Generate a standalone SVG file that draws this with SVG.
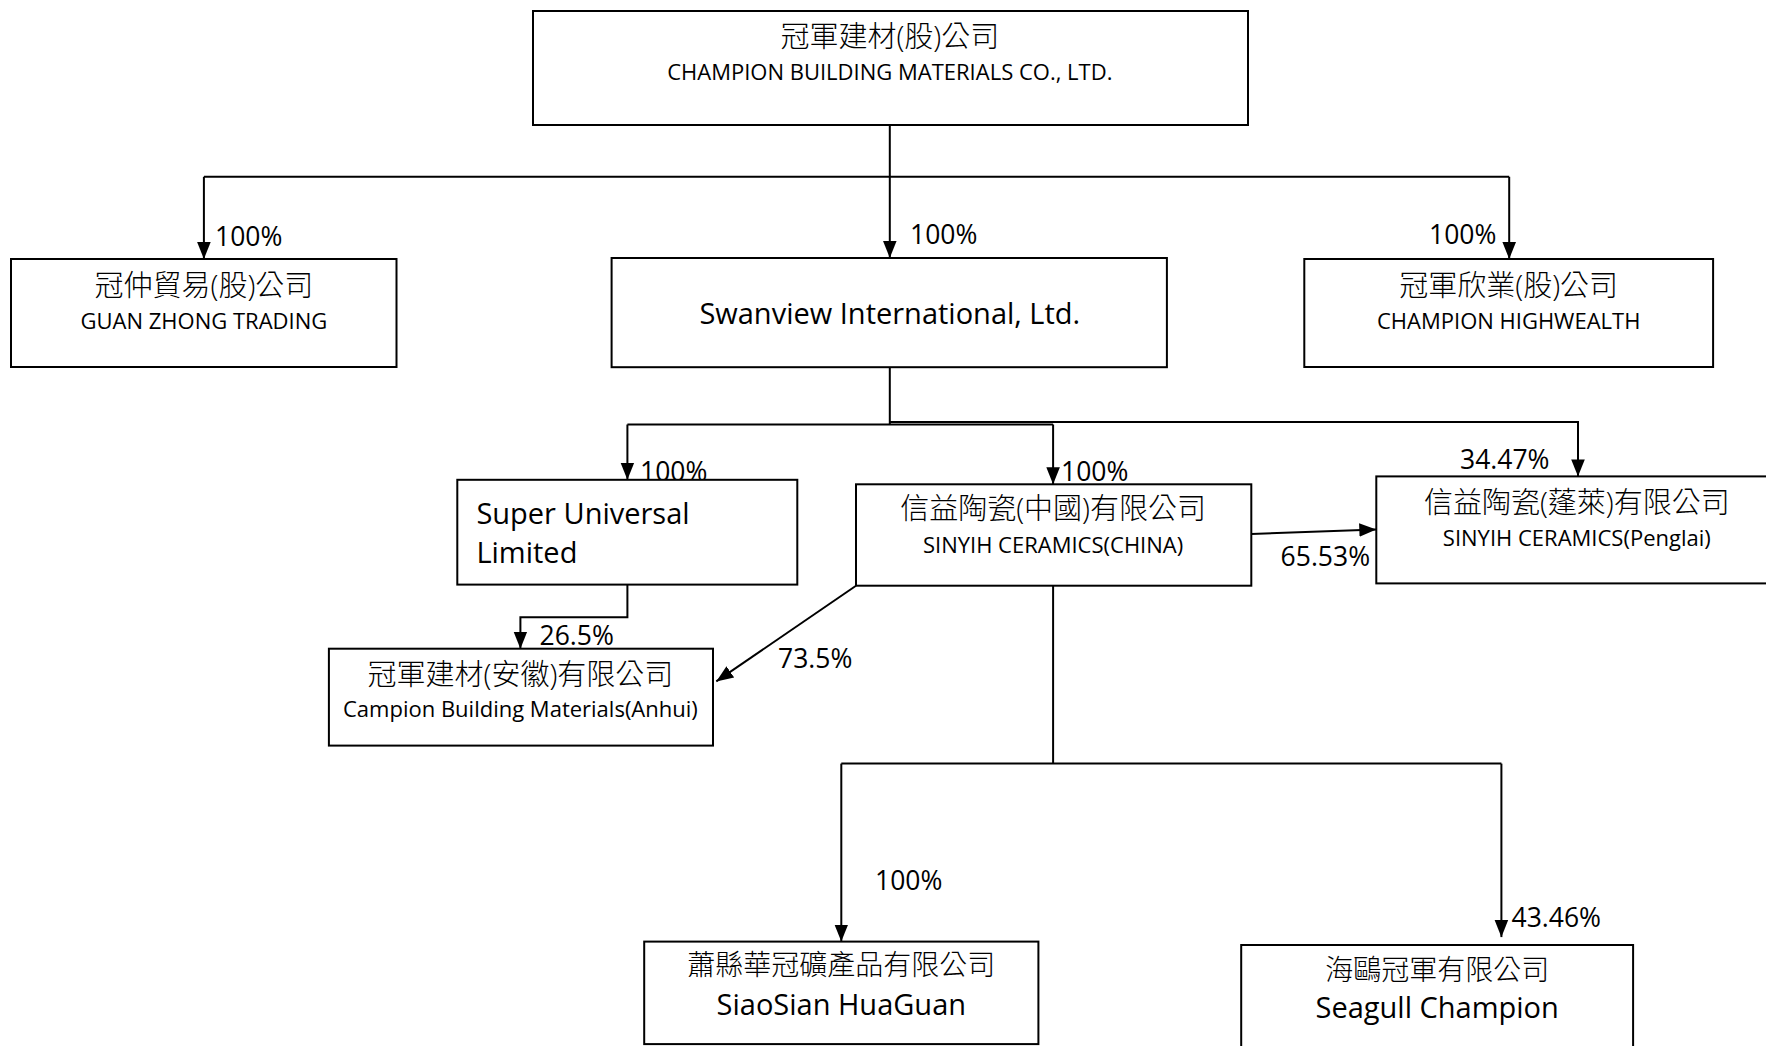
<svg xmlns="http://www.w3.org/2000/svg" width="1766" height="1046" viewBox="0 0 1766 1046">
<style>
.box{fill:#fff;stroke:#000;stroke-width:2}
.ln{fill:none;stroke:#000;stroke-width:2}
text{font-family:"Open Sans","Noto Sans CJK TC",sans-serif;fill:#000}
.cjk{font-size:29px;text-anchor:middle;font-weight:300}
.cjk28{font-size:28px;text-anchor:middle;font-weight:300}
.en{font-size:22px;text-anchor:middle}
.big{font-size:29px}
.pct{font-size:26.5px}
</style>
<defs>
<marker id="arr" viewBox="0 0 10 10" refX="10" refY="5" markerWidth="17" markerHeight="17" markerUnits="userSpaceOnUse" orient="auto">
<path d="M0,1 L10,5 L0,9 z" fill="#000"/>
</marker>
</defs>
<rect width="1766" height="1046" fill="#fff"/>
<g id="connectors">
<path class="ln" d="M889.8,125 V257.9" marker-end="url(#arr)"/>
<path class="ln" d="M203.9,176.8 H1509.2"/>
<path class="ln" d="M203.9,176.8 V259" marker-end="url(#arr)"/>
<path class="ln" d="M1509.2,176.8 V259" marker-end="url(#arr)"/>
<path class="ln" d="M889.8,367.2 V424.5"/>
<path class="ln" d="M627.4,424.5 H1053.1"/>
<path class="ln" d="M889.8,422 H1578 V476.4" marker-end="url(#arr)"/>
<path class="ln" d="M627.4,424.5 V479.8" marker-end="url(#arr)"/>
<path class="ln" d="M1053.1,424.5 V484.3" marker-end="url(#arr)"/>
<path class="ln" d="M627.4,584.6 V617.2 H520.4 V648.7" marker-end="url(#arr)"/>
<path class="ln" d="M856,585.7 L716.3,681.4" marker-end="url(#arr)"/>
<path class="ln" d="M1251.3,533.9 L1376.3,529.4" marker-end="url(#arr)"/>
<path class="ln" d="M1053.1,585.7 V763.6"/>
<path class="ln" d="M841.3,763.6 H1501.4"/>
<path class="ln" d="M841.3,763.6 V941.6" marker-end="url(#arr)"/>
<path class="ln" d="M1501.4,763.6 V937.1" marker-end="url(#arr)"/>
<text class="pct" x="215" y="246">100%</text>
<text class="pct" x="910" y="244">100%</text>
<text class="pct" x="1429" y="244">100%</text>
<text class="pct" x="640" y="481">100%</text>
<text class="pct" x="1061" y="481">100%</text>
<text class="pct" x="1460" y="469">34.47%</text>
<text class="pct" x="539.5" y="645">26.5%</text>
<text class="pct" x="778" y="668">73.5%</text>
<text class="pct" x="1280.6" y="566">65.53%</text>
<text class="pct" x="875" y="890">100%</text>
<text class="pct" x="1511.5" y="927">43.46%</text>
</g>
<g id="champion">
<rect class="box" x="533" y="11" width="715" height="114"/>
<text class="cjk" x="889.8" y="47.3">冠軍建材(股)公司</text>
<text class="en" x="889.8" y="79.6">CHAMPION BUILDING MATERIALS CO., LTD.</text>
</g>
<g id="guanzhong">
<rect class="box" x="11" y="259" width="385.5" height="108"/>
<text class="cjk" x="203.9" y="296">冠仲貿易(股)公司</text>
<text class="en" x="203.9" y="328.5">GUAN ZHONG TRADING</text>
</g>
<g id="swanview">
<rect class="box" x="611.6" y="258" width="555.3" height="109.2"/>
<text class="big" x="889.8" y="323.5" text-anchor="middle">Swanview International, Ltd.</text>
</g>
<g id="highwealth">
<rect class="box" x="1304.3" y="259" width="408.8" height="108"/>
<text class="cjk" x="1508.7" y="296">冠軍欣業(股)公司</text>
<text class="en" x="1508.7" y="328.5">CHAMPION HIGHWEALTH</text>
</g>
<g id="superuniversal">
<rect class="box" x="457.3" y="479.8" width="340" height="104.8"/>
<text class="big" x="476.4" y="524">Super Universal</text>
<text class="big" x="476.4" y="563">Limited</text>
</g>
<g id="sinyihchina">
<rect class="box" x="856" y="484.3" width="395.3" height="101.4"/>
<text class="cjk" x="1053.1" y="519">信益陶瓷(中國)有限公司</text>
<text class="en" x="1053.1" y="552.7">SINYIH CERAMICS(CHINA)</text>
</g>
<g id="penglai">
<rect class="box" x="1376.3" y="476.4" width="400" height="107"/>
<text class="cjk" x="1576.8" y="512.5">信益陶瓷(蓬萊)有限公司</text>
<text class="en" x="1576.8" y="546">SINYIH CERAMICS(Penglai)</text>
</g>
<g id="anhui">
<rect class="box" x="328.9" y="648.7" width="384.1" height="96.9"/>
<text class="cjk" x="520.4" y="684.8">冠軍建材(安徽)有限公司</text>
<text class="en" x="520.4" y="717">Campion Building Materials(Anhui)</text>
</g>
<g id="siaosian">
<rect class="box" x="644.2" y="941.6" width="394.2" height="102.5"/>
<text class="cjk28" x="841.3" y="975">蕭縣華冠礦產品有限公司</text>
<text class="big" x="841.3" y="1015" text-anchor="middle">SiaoSian HuaGuan</text>
</g>
<g id="seagull">
<rect class="box" x="1241.2" y="945" width="391.9" height="110"/>
<text class="cjk28" x="1437.2" y="979.5">海鷗冠軍有限公司</text>
<text class="big" x="1437.2" y="1018" text-anchor="middle">Seagull Champion</text>
</g>
</svg>
